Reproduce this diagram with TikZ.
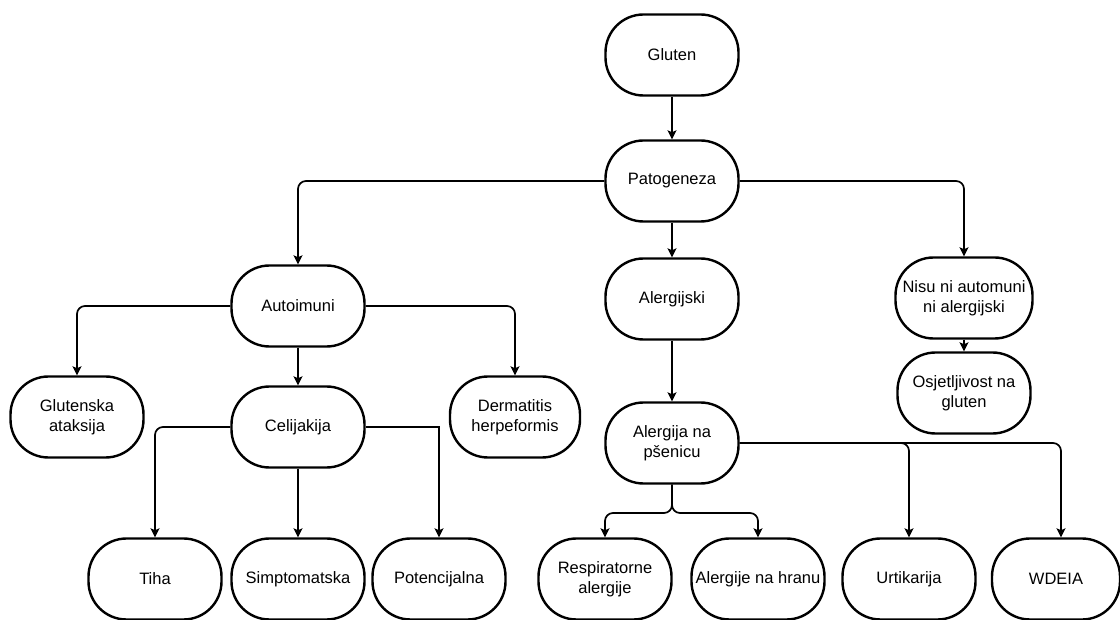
\documentclass[tikz,border=0pt]{standalone}
\usepackage{fontspec}
\setmainfont{Liberation Sans}
\usetikzlibrary{arrows.meta}
\begin{document}
\begin{tikzpicture}[x=1pt,y=-1pt,
  box/.style={draw=black, line width=2.4pt, rounded corners=38pt, minimum width=133pt, minimum height=81pt,
    align=center, inner sep=1pt, font=\fontsize{16.5}{19.5}\selectfont},
  conn/.style={line width=1.7pt, rounded corners=8pt, -{Stealth[length=9pt,width=9pt,inset=2pt]}},
  connsharp/.style={line width=1.7pt, -{Stealth[length=9pt,width=9pt,inset=2pt]}}
]
\useasboundingbox (0,0) rectangle (1120,620);
\node[box] (glu) at (672,55) {Gluten};
\node[box] (pat) at (672,181) {Patogeneza};
\node[box] (aut) at (298,306) {Autoimuni};
\node[box] (ale) at (672,299) {Alergijski};
\node[box, minimum width=137pt] (nis) at (964,298) {Nisu ni automuni\\ni alergijski};
\node[box] (osj) at (964,393) {Osjetljivost na\\gluten};
\node[box] (gat) at (77,417) {Glutenska\\ataksija};
\node[box] (cel) at (298,427) {Celijakija};
\node[box, minimum width=130pt] (der) at (515,417) {Dermatitis\\herpeformis};
\node[box] (aps) at (672,443) {Alergija na\\pšenicu};
\node[box] (tih) at (155,579) {Tiha};
\node[box] (sim) at (298,579) {Simptomatska};
\node[box] (pot) at (439,579) {Potencijalna};
\node[box] (res) at (605,579) {Respiratorne\\alergije};
\node[box] (hra) at (758,579) {Alergije na hranu};
\node[box] (urt) at (909,579) {Urtikarija};
\node[box, minimum width=128pt] (wde) at (1056,579) {WDEIA};

\draw[conn] (glu) -- (pat);
\draw[conn] (pat.west) -| (aut.north);
\draw[conn] (pat) -- (ale);
\draw[conn] (pat.east) -| (nis.north);
\draw[conn] (aut.west) -| (gat.north);
\draw[conn] (aut) -- (cel);
\draw[conn] (aut.east) -| (der.north);
\draw[conn] (cel.west) -| (tih.north);
\draw[conn] (cel) -- (sim);
\draw[connsharp] (cel.east) -| (pot.north);
\draw[conn] (ale) -- (aps);
\draw[conn] (nis) -- (osj);
\coordinate (split) at (672,513);
\draw[conn] (aps.south) -- (split) -| (res.north);
\draw[conn] (aps.south) -- (split) -| (hra.north);
\draw[conn] (aps.east) -| (urt.north);
\draw[conn] (aps.east) -| ([xshift=5pt]wde.north);
\end{tikzpicture}
\end{document}
